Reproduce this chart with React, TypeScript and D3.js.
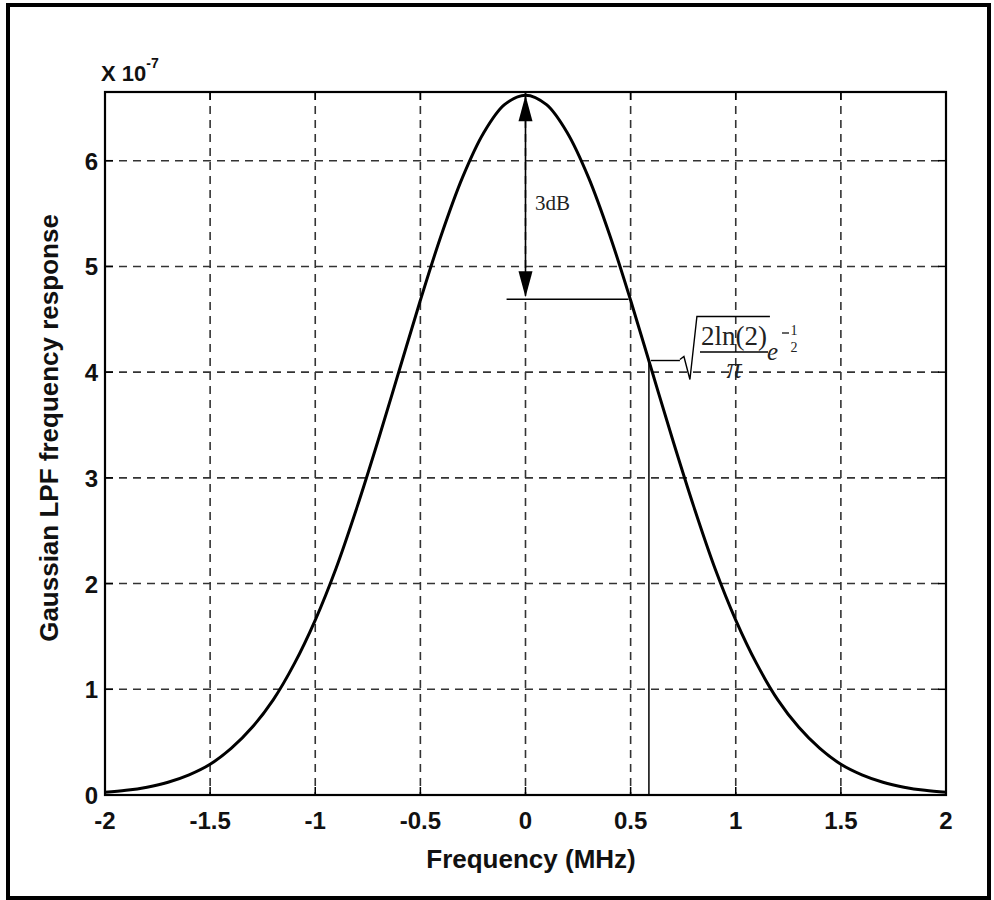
import * as d3 from "d3";
import React, { useEffect } from "react";

// frequency in MHz, response in units of 1e-7
const freqs = [
  -2, -1.9, -1.8, -1.7, -1.6, -1.5, -1.4, -1.3, -1.2, -1.1, -1, -0.9, -0.8, -0.7,
  -0.6, -0.5, -0.4, -0.3, -0.2, -0.1, 0, 0.1, 0.2, 0.3, 0.4, 0.5, 0.6, 0.7, 0.8,
  0.9, 1, 1.1, 1.2, 1.3, 1.4, 1.5, 1.6, 1.7, 1.8, 1.9, 2,
];
const response = [
  0.026, 0.044, 0.074, 0.12, 0.19, 0.29, 0.44, 0.64, 0.9, 1.24, 1.655, 2.15, 2.73,
  3.36, 4.02, 4.68, 5.3, 5.84, 6.26, 6.53, 6.62, 6.53, 6.26, 5.84, 5.3, 4.68, 4.02,
  3.36, 2.73, 2.15, 1.655, 1.24, 0.9, 0.64, 0.44, 0.29, 0.19, 0.12, 0.074, 0.044,
  0.026,
];
const xTicks = [-2, -1.5, -1, -0.5, 0, 0.5, 1, 1.5, 2];
const yTicks = [0, 1, 2, 3, 4, 5, 6];

// annotation values
const peakValue = 6.62;
const halfPowerValue = 4.69;
const halfPowerFreq = 0.49;
const markerFreq = 0.587;
const markerValue = 4.11;

const W = 994;
const H = 900;
const m = { left: 105, right: 946, top: 92, bottom: 795 };

const sans = "'Liberation Sans', Arial, sans-serif";
const serif = "'Liberation Serif', 'Times New Roman', serif";

export default function App() {
  useEffect(() => {
    document.body.style.margin = "0";
  }, []);

  const x = d3.scaleLinear().domain([-2, 2]).range([m.left, m.right]);
  const y = d3.scaleLinear().domain([0, 6.65]).range([m.bottom, m.top]);

  const data = freqs.map((f, i) => ({ f, v: response[i] }));
  const line = d3
    .line<{ f: number; v: number }>()
    .x((d) => x(d.f))
    .y((d) => y(d.v))
    .curve(d3.curveCatmullRom);

  const ax = x(0);
  const yTop = y(peakValue);
  const yHalf = y(halfPowerValue);
  const mx = x(markerFreq);
  const my = y(markerValue);

  return (
    <svg width={W} height={H} style={{ display: "block" }}>
      <rect x={0} y={0} width={W} height={H} fill="#fff" />
      <rect x={8} y={5} width={981} height={893} fill="none" stroke="#000" strokeWidth={4} />

      {/* grid */}
      {xTicks.slice(1, -1).map((t) => (
        <line key={"gx" + t} x1={x(t)} x2={x(t)} y1={m.top} y2={m.bottom}
          stroke="#333" strokeWidth={1.6} strokeDasharray="8,6" />
      ))}
      {yTicks.slice(1).map((t) => (
        <line key={"gy" + t} x1={m.left} x2={m.right} y1={y(t)} y2={y(t)}
          stroke="#333" strokeWidth={1.6} strokeDasharray="8,6" />
      ))}

      {/* inward ticks */}
      {xTicks.map((t) => (
        <g key={"tx" + t}>
          <line x1={x(t)} x2={x(t)} y1={m.bottom} y2={m.bottom - 8} stroke="#000" strokeWidth={1.5} />
          <line x1={x(t)} x2={x(t)} y1={m.top} y2={m.top + 8} stroke="#000" strokeWidth={1.5} />
          <text x={x(t)} y={m.bottom + 34} textAnchor="middle" fontFamily={sans}
            fontWeight="bold" fontSize={24} fill="#111">{t}</text>
        </g>
      ))}
      {yTicks.map((t) => (
        <g key={"ty" + t}>
          <line x1={m.left} x2={m.left + 8} y1={y(t)} y2={y(t)} stroke="#000" strokeWidth={1.5} />
          <line x1={m.right} x2={m.right - 8} y1={y(t)} y2={y(t)} stroke="#000" strokeWidth={1.5} />
          <text x={m.left - 7} y={y(t) + 9} textAnchor="end" fontFamily={sans}
            fontWeight="bold" fontSize={24} fill="#111">{t}</text>
        </g>
      ))}

      <rect x={m.left} y={m.top} width={m.right - m.left} height={m.bottom - m.top}
        fill="none" stroke="#000" strokeWidth={2.2} />

      {/* exponent label */}
      <text x={101} y={81} fontFamily={sans} fontWeight="bold" fontSize={22} fill="#111">
        X 10
        <tspan dy={-13} fontSize={14}>-7</tspan>
      </text>

      {/* axis labels */}
      <text x={531} y={868} textAnchor="middle" fontFamily={sans} fontWeight="bold" fontSize={26} fill="#111">
        Frequency (MHz)
      </text>
      <text transform={`translate(58,428) rotate(-90)`} textAnchor="middle" fontFamily={sans}
        fontWeight="bold" fontSize={26} fill="#111">
        Gaussian LPF frequency response
      </text>

      {/* curve */}
      <path d={line(data) ?? ""} fill="none" stroke="#000" strokeWidth={3} />

      {/* 3dB arrow */}
      <line x1={ax} x2={ax} y1={yTop + 20} y2={yHalf - 20} stroke="#000" strokeWidth={1.6} />
      <path d={`M${ax},${yTop} L${ax - 7},${yTop + 26} L${ax + 7},${yTop + 26} Z`} fill="#000" />
      <path d={`M${ax},${yHalf - 2} L${ax - 7},${yHalf - 28} L${ax + 7},${yHalf - 28} Z`} fill="#000" />
      <line x1={x(-0.09)} x2={x(halfPowerFreq)} y1={yHalf} y2={yHalf} stroke="#000" strokeWidth={1.6} />
      <text x={535} y={210} fontFamily={serif} fontSize={21} fill="#222">3dB</text>

      {/* marker */}
      <line x1={mx} x2={mx} y1={my} y2={m.bottom} stroke="#000" strokeWidth={1.5} />
      <line x1={mx + 2} x2={mx + 31} y1={my} y2={my} stroke="#000" strokeWidth={1.4} />
      <path d={`M${mx + 31},${my - 1} L${mx + 35},${my - 4} L${mx + 41},${my + 19} L${mx + 48},${my - 44} L${mx + 121},${my - 44}`}
        fill="none" stroke="#000" strokeWidth={1.4} />
      <text x={734} y={345} textAnchor="middle" fontFamily={serif} fontSize={27} fill="#222">2ln(2)</text>
      <line x1={700} x2={768} y1={352} y2={352} stroke="#000" strokeWidth={1.4} />
      <text x={734} y={378} textAnchor="middle" fontFamily={serif} fontStyle="italic" fontSize={30} fill="#222">π</text>
      <text x={767} y={360} fontFamily={serif} fontStyle="italic" fontSize={25} fill="#222">e</text>
      <line x1={782} x2={789} y1={333} y2={333} stroke="#000" strokeWidth={1.2} />
      <text x={794} y={335} textAnchor="middle" fontFamily={serif} fontSize={14} fill="#222">1</text>
      <text x={794} y={352} textAnchor="middle" fontFamily={serif} fontSize={14} fill="#222">2</text>
    </svg>
  );
}
